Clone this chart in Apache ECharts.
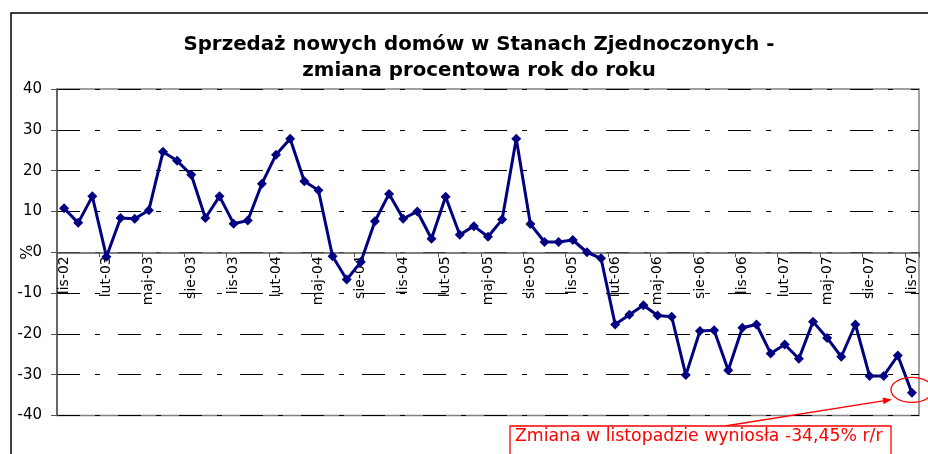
<!DOCTYPE html>
<html>
<head>
<meta charset="utf-8">
<script src="https://cdn.jsdelivr.net/npm/echarts@6/dist/echarts.min.js"></script>
<style>
html,body{margin:0;padding:0;background:#fff;}
#chart{width:928px;height:454px;}
</style>
</head>
<body>
<div id="chart"></div>
<script>
const titleLines = ['Sprzedaż nowych domów w Stanach Zjednoczonych -', 'zmiana procentowa rok do roku'];
const categories = [
  'lis-02','gru-02',
  'sty-03','lut-03','mar-03','kwi-03','maj-03','cze-03','lip-03','sie-03','wrz-03','paź-03','lis-03','gru-03',
  'sty-04','lut-04','mar-04','kwi-04','maj-04','cze-04','lip-04','sie-04','wrz-04','paź-04','lis-04','gru-04',
  'sty-05','lut-05','mar-05','kwi-05','maj-05','cze-05','lip-05','sie-05','wrz-05','paź-05','lis-05','gru-05',
  'sty-06','lut-06','mar-06','kwi-06','maj-06','cze-06','lip-06','sie-06','wrz-06','paź-06','lis-06','gru-06',
  'sty-07','lut-07','mar-07','kwi-07','maj-07','cze-07','lip-07','sie-07','wrz-07','paź-07','lis-07'
];
const salesChange = [
  10.8, 7.2,
  13.7, -1.1, 8.4, 8.2, 10.3, 24.6, 22.4, 19.0, 8.4, 13.7, 7.0, 7.8,
  16.8, 23.9, 27.8, 17.4, 15.2, -1.0, -6.7, -2.4, 7.6, 14.3, 8.2, 10.0,
  3.3, 13.6, 4.3, 6.4, 3.8, 8.0, 27.8, 6.9, 2.5, 2.5, 3.0, 0.0,
  -1.5, -17.7, -15.3, -13.0, -15.5, -15.8, -30.1, -19.3, -19.1, -28.9, -18.5, -17.7,
  -24.8, -22.6, -26.1, -17.0, -21.0, -25.6, -17.7, -30.3, -30.3, -25.3, -34.45
];
const yMin = -40, yMax = 40, yStep = 10;
const yAxisName = '%';
const noteText = 'Zmiana w listopadzie wyniosła -34,45% r/r';

const chart = echarts.init(document.getElementById('chart'), null, {renderer: 'canvas'});
const FONT = 'DejaVu Sans';
const GRID_BOTTOM = 38.5;
const option = {
  animation: false,
  backgroundColor: '#fff',
  title: {
    text: titleLines.join('\n'),
    left: 474,
    textAlign: 'center',
    top: 27,
    textStyle: {fontFamily: FONT, fontWeight: 'bold', fontSize: 19.8, lineHeight: 26, color: '#000'}
  },
  grid: {
    left: 57, right: 9, top: 89, bottom: GRID_BOTTOM,
    show: true, borderColor: '#808080', borderWidth: 1.5,
    containLabel: false, outerBoundsMode: 'none'
  },
  xAxis: {
    type: 'category',
    data: categories,
    boundaryGap: true,
    axisLine: {onZero: false, lineStyle: {color: '#555', width: 1.5}},
    axisTick: {show: true, interval: 2, length: 5, lineStyle: {color: '#555', width: 1}},
    axisLabel: {interval: 2, rotate: 90, margin: 4, fontFamily: FONT, fontSize: 14, color: '#000'},
    splitLine: {show: false}
  },
  yAxis: {
    type: 'value',
    min: yMin, max: yMax, interval: yStep,
    name: yAxisName,
    nameLocation: 'middle',
    nameRotate: 90,
    nameGap: 21,
    nameMoveOverlap: false,
    nameTextStyle: {fontFamily: FONT, fontSize: 16, color: '#000'},
    axisLine: {show: true, lineStyle: {color: '#555', width: 1.5}},
    axisTick: {show: true, length: 6, lineStyle: {color: '#555'}},
    axisLabel: {margin: 15, fontFamily: FONT, fontSize: 15, color: '#000'},
    splitLine: {show: true, lineStyle: {color: '#000', width: 1, type: [23, 15, 5, 18]}}
  },
  series: [{
    type: 'line',
    data: salesChange,
    symbol: 'diamond',
    symbolSize: 10,
    showAllSymbol: true,
    lineStyle: {color: '#000080', width: 3},
    itemStyle: {color: '#000080'},
    z: 5
  }]
};
chart.setOption(option);

// place the category axis on the zero line (labels included)
const zeroY = chart.convertToPixel({yAxisIndex: 0}, 0);
const bottomY = chart.getHeight() - GRID_BOTTOM;
chart.setOption({xAxis: {offset: -(bottomY - zeroY)}});

const lastIdx = salesChange.length - 1;
const p = chart.convertToPixel({seriesIndex: 0}, [lastIdx, salesChange[lastIdx]]);
const tip = [p[0] - 20, p[1] + 6.6];
const start = [725, 426];
const ang = Math.atan2(tip[1] - start[1], tip[0] - start[0]);
const ah = 9, aw = 3.5;
const base = [tip[0] - ah * Math.cos(ang), tip[1] - ah * Math.sin(ang)];
const perp = [-Math.sin(ang), Math.cos(ang)];
chart.setOption({
  graphic: [
    {type: 'rect', shape: {x: 11, y: 13, width: 1000, height: 1000},
     style: {fill: 'none', stroke: '#000', lineWidth: 1.5}, z: 100, silent: true},
    {type: 'ellipse', shape: {cx: p[0], cy: p[1] - 3, rx: 21, ry: 12.5},
     style: {fill: 'none', stroke: '#ff0000', lineWidth: 1.3}, z: 100},
    {type: 'line', shape: {x1: start[0], y1: start[1], x2: base[0], y2: base[1]},
     style: {stroke: '#ff0000', lineWidth: 1.3}, z: 100},
    {type: 'polygon', shape: {points: [tip, [base[0] + perp[0] * aw, base[1] + perp[1] * aw], [base[0] - perp[0] * aw, base[1] - perp[1] * aw]]},
     style: {fill: '#ff0000'}, z: 100},
    {type: 'rect', shape: {x: 510, y: 426, width: 381, height: 60},
     style: {fill: '#fff', stroke: '#ff0000', lineWidth: 1.3}, z: 101},
    {type: 'text', x: 515, y: 437,
     style: {text: noteText, fill: '#ff0000', fontFamily: FONT, fontSize: 17.3, verticalAlign: 'middle', align: 'left'}, z: 102}
  ]
});
</script>
</body>
</html>
